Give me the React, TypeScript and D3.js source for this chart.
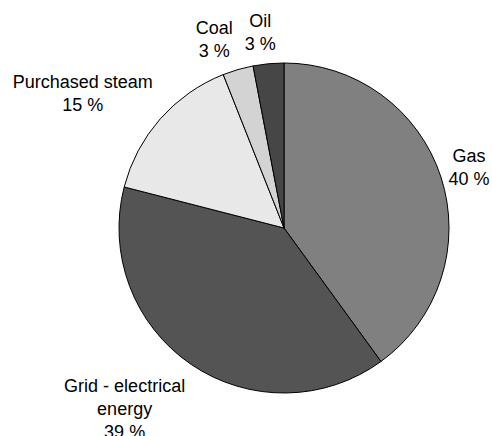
import React from "react";
import * as d3 from "d3";

const categories = ["Gas", "Grid - electrical energy", "Purchased steam", "Coal", "Oil"];
const values = [40, 39, 15, 3, 3];
const labelLines = [
  ["Gas", "40 %"],
  ["Grid - electrical", "energy", "39 %"],
  ["Purchased steam", "15 %"],
  ["Coal", "3 %"],
  ["Oil", "3 %"],
];
const colors = ["#808080", "#545454", "#e8e8e8", "#d3d3d3", "#464646"];

// label layout nudges (layout, not data)
const nudges: [number, number][] = [
  [0, 0],
  [-21, 3],
  [-1.5, 0],
  [-16, 1],
  [-6, 0],
];

const W = 492, H = 436;
const CX = 284, CY = 228, R = 165;
const FONT = 18;
const LH = 23;
const FONT_FAMILY = "'Liberation Sans', Arial, sans-serif";

function measure(text: string): number {
  if (typeof document === "undefined") return text.length * FONT * 0.5;
  const c = document.createElement("canvas").getContext("2d");
  if (!c) return text.length * FONT * 0.5;
  c.font = `${FONT}px ${FONT_FAMILY}`;
  return c.measureText(text).width;
}

export default function App() {
  const pie = d3.pie<number>().sort(null).value((d) => d).startAngle(0).endAngle(2 * Math.PI);
  const arcs = pie(values);
  const arcGen = d3.arc<d3.PieArcDatum<number>>().innerRadius(0).outerRadius(R);

  return (
    <svg width={W} height={H} style={{ position: "absolute", left: 0, top: 0, background: "#fff" }}>
      <g transform={`translate(${CX},${CY})`}>
        {arcs.map((a, i) => (
          <path key={categories[i]} d={arcGen(a) || ""} fill={colors[i]} stroke="#000" strokeWidth={1} />
        ))}
      </g>
      {arcs.map((a, i) => {
        const theta = (a.startAngle + a.endAngle) / 2;
        const s = Math.sin(theta), c = Math.cos(theta);
        const m = Math.max(Math.abs(s), Math.abs(c));
        const rr = R + 8;
        const px = CX + rr * s, py = CY - rr * c;
        const lines = labelLines[i];
        const w = Math.max(...lines.map(measure));
        const h = lines.length * LH;
        const cx = px + (w / 2) * (s / m) + nudges[i][0];
        const cy = py - (h / 2) * (c / m) + nudges[i][1];
        const top = cy - h / 2;
        return (
          <text key={"l" + i} textAnchor="middle" fontFamily={FONT_FAMILY} fontSize={FONT} fill="#000">
            {lines.map((ln, j) => (
              <tspan key={j} x={cx} y={top + 17.5 + j * LH}>{ln}</tspan>
            ))}
          </text>
        );
      })}
    </svg>
  );
}
